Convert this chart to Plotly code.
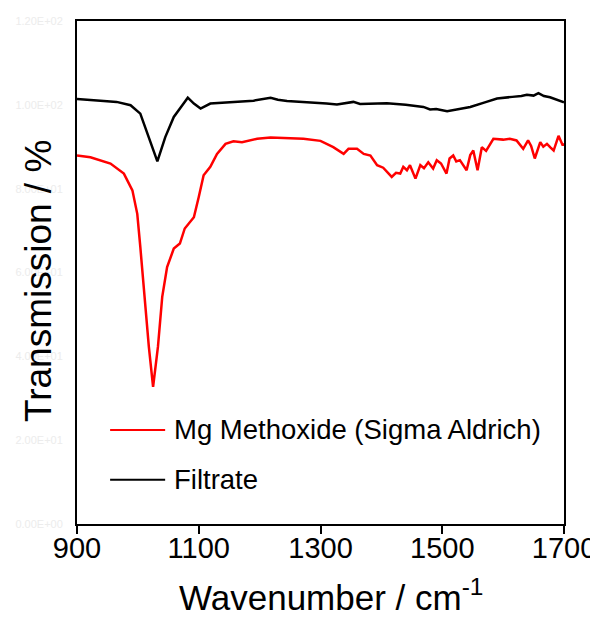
import plotly.graph_objects as go

# ---- data ----
series_names = ["Mg Methoxide (Sigma Aldrich)", "Filtrate"]
series_colors = ["#ff0000", "#000000"]

mg_wn = [900, 922, 955, 977, 991, 999, 1004, 1011, 1018, 1025, 1033, 1040, 1048, 1059,
         1069, 1077, 1092, 1100, 1108, 1119, 1130, 1144, 1157, 1171, 1196, 1218, 1272,
         1300, 1321, 1338, 1346, 1360, 1371, 1382, 1393, 1403, 1417, 1424, 1431, 1436,
         1442, 1447, 1456, 1464, 1470, 1477, 1485, 1491, 1498, 1507, 1512, 1518, 1523,
         1529, 1540, 1546, 1551, 1558, 1565, 1572, 1579, 1584, 1600, 1611, 1622, 1633,
         1641, 1646, 1652, 1661, 1666, 1672, 1678, 1683, 1691, 1698, 1700]
mg_t = [87.9, 87.5, 86.0, 83.6, 79.6, 74.0, 66.1, 54.2, 42.3, 32.7, 42.3, 54.2, 61.3, 65.7,
        66.9, 70.5, 73.2, 78.0, 83.2, 85.2, 88.3, 90.7, 91.3, 91.1, 91.9, 92.2, 91.9,
        91.4, 89.9, 88.3, 89.5, 89.5, 88.3, 87.9, 85.6, 85.0, 82.8, 83.8, 83.6, 85.2,
        84.4, 85.6, 82.4, 85.6, 84.9, 86.3, 84.8, 86.8, 86.0, 83.6, 87.2, 87.9, 86.5,
        86.8, 84.4, 88.0, 89.1, 84.4, 89.9, 89.0, 90.7, 91.9, 91.7, 91.9, 91.5, 89.5,
        91.5, 90.2, 87.2, 91.1, 90.0, 90.7, 89.8, 89.1, 92.6, 90.3, 90.8]

fil_wn = [900, 920, 944, 965, 988, 1004, 1018, 1032, 1045, 1059, 1073, 1082, 1092, 1103,
          1119, 1140, 1163, 1190, 1218, 1230, 1245, 1270, 1290, 1310, 1327, 1354, 1365,
          1380, 1409, 1440, 1455, 1469, 1480, 1490, 1508, 1525, 1546, 1570, 1590, 1615,
          1630, 1639, 1650, 1658, 1667, 1677, 1690, 1698, 1700]
fil_t = [101.4, 101.1, 100.9, 100.7, 99.9, 97.9, 92.3, 86.5, 92.3, 97.1, 99.9, 101.7, 100.3,
         99.1, 100.3, 100.5, 100.7, 101.0, 101.7, 101.2, 100.9, 100.7, 100.6, 100.3, 100.1,
         100.7, 100.2, 100.3, 100.4, 100.0, 99.8, 99.5, 98.9, 99.0, 98.5, 98.9, 99.5,
         100.6, 101.5, 101.9, 102.1, 102.4, 102.2, 102.8, 102.1, 101.8, 101.2, 100.7, 100.6]

x_ticks = [900, 1100, 1300, 1500, 1700]
y_ticks = [0, 20, 40, 60, 80, 100, 120]
y_tick_text = ["0.00E+00", "2.00E+01", "4.00E+01", "6.00E+01", "8.00E+01", "1.00E+02", "1.20E+02"]
x_title = "Wavenumber / cm<sup>-1</sup>"
y_title = "Transmission / %"

FONT = "Arial, 'Liberation Sans', sans-serif"

fig = go.Figure()
fig.add_trace(go.Scatter(x=mg_wn, y=mg_t, mode="lines", name=series_names[0],
                         line=dict(color=series_colors[0], width=2.5), showlegend=False))
fig.add_trace(go.Scatter(x=fil_wn, y=fil_t, mode="lines", name=series_names[1],
                         line=dict(color=series_colors[1], width=2.5), showlegend=False))

# manual legend (keys + labels)
legend_rows = [0.187, 0.088]
for name, col, yy in zip(series_names, series_colors, legend_rows):
    fig.add_shape(type="line", xref="paper", yref="paper", x0=0.068, x1=0.181, y0=yy, y1=yy,
                  line=dict(color=col, width=2))
    fig.add_annotation(xref="paper", yref="paper", x=0.195, y=yy, text=name, showarrow=False,
                       xanchor="left", yanchor="middle",
                       font=dict(family=FONT, size=27.5, color="#000000"))

# axis titles
fig.add_annotation(xref="paper", yref="paper", x=0.5216, y=0, yshift=-71, text=x_title,
                   showarrow=False, xanchor="center", yanchor="middle",
                   font=dict(family=FONT, size=35, color="black"))
fig.add_annotation(xref="paper", yref="paper", x=0, xshift=-39, y=0.483, text=y_title,
                   showarrow=False, xanchor="center", yanchor="middle", textangle=-90,
                   font=dict(family=FONT, size=37, color="black"))

fig.update_layout(
    width=590, height=609,
    margin=dict(l=69, r=34, t=13, b=93),
    paper_bgcolor="white", plot_bgcolor="white",
    font=dict(family=FONT, color="#000000"),
)
fig.update_xaxes(
    range=[900, 1700], tickvals=x_ticks, ticks="outside", ticklen=8, tickwidth=2,
    tickcolor="black", showline=True, linecolor="black", linewidth=2, mirror=True,
    showgrid=False, zeroline=False, automargin=False, ticklabelstandoff=-11,
    tickfont=dict(family=FONT, size=29, color="black"),
)
fig.update_yaxes(
    range=[0, 120], tickvals=y_ticks, ticktext=y_tick_text, ticks="",
    showline=True, linecolor="black", linewidth=2, mirror=True,
    showgrid=False, zeroline=False, automargin=False, ticklabelstandoff=10,
    tickfont=dict(family=FONT, size=11, color="#ececec"),
)

fig.write_html("out.html")
